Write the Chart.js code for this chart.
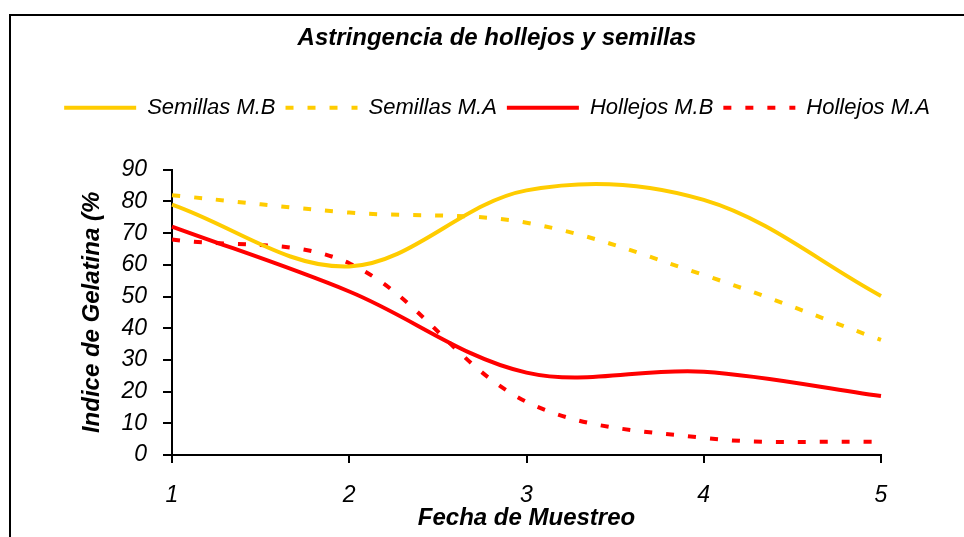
<!DOCTYPE html>
<html>
<head>
<meta charset="utf-8">
<script src="https://cdn.jsdelivr.net/npm/chart.js@4.4.1/dist/chart.umd.min.js"></script>
<style>
  html, body { margin: 0; padding: 0; background: #fff; }
  #wrap { width: 964px; height: 537px; }
</style>
</head>
<body>
<div id="wrap"><canvas id="chart" width="964" height="537"></canvas></div>
<script>
// Fecha de Muestreo (x)
const fechas = ["1", "2", "3", "4", "5"];

// Indice de Gelatina (%) por fecha
const semillasMB = [79, 59.5, 83.5, 80.5, 50.2];
const semillasMA = [82, 76.5, 73.3, 56.8, 36.3];
const hollejosMB = [72.1, 51.6, 26, 26.3, 18.6];
const hollejosMA = [68, 60.5, 16.8, 5.4, 4.1];

const yTicks = [0, 10, 20, 30, 40, 50, 60, 70, 80, 90];

const FONT = "'Liberation Sans', Arial, sans-serif";
const AMARILLO = "#FFCC00";
const ROJO = "#FF0000";
const punteado = [8, 14];

// marco negro del grafico (como en Excel)
const marco = {
    id: "marco",
    beforeDraw(chart) {
        const ctx = chart.ctx;
        ctx.save();
        ctx.fillStyle = "#fff";
        ctx.fillRect(0, 0, chart.width, chart.height);
        ctx.strokeStyle = "#000";
        ctx.lineWidth = 2;
        ctx.strokeRect(10, 15, 1000, 600);
        ctx.restore();
    }
};

function serie(label, data, color, dash) {
    return {
        label: label,
        data: data,
        borderColor: color,
        backgroundColor: color,
        borderWidth: 4,
        borderDash: dash,
        borderCapStyle: "butt",
        pointRadius: 0,
        pointHoverRadius: 0,
        fill: false,
        tension: 0.35
    };
}

// leyenda con el mismo trazo (y punteado) que cada serie
function etiquetas(chart) {
    const items = Chart.defaults.plugins.legend.labels.generateLabels(chart);
    items.forEach(item => {
        const ds = chart.data.datasets[item.datasetIndex];
        item.lineDash = ds.borderDash;
        item.lineWidth = ds.borderWidth;
        item.strokeStyle = ds.borderColor;
        item.lineCap = "butt";
    });
    return items;
}

new Chart(document.getElementById("chart"), {
    type: "line",
    data: {
        labels: fechas,
        datasets: [
            serie("Semillas M.B", semillasMB, AMARILLO, []),
            serie("Semillas M.A", semillasMA, AMARILLO, punteado),
            serie("Hollejos M.B", hollejosMB, ROJO, []),
            serie("Hollejos M.A", hollejosMA, ROJO, punteado)
        ]
    },
    options: {
        responsive: false,
        animation: false,
        layout: { padding: { top: 10, left: 40, right: 10, bottom: 0 } },
        plugins: {
            title: {
                display: true,
                text: "Astringencia de hollejos y semillas",
                color: "#000",
                font: { family: FONT, size: 24, weight: "bold", style: "italic" },
                padding: { top: 14, bottom: 34 }
            },
            legend: {
                position: "top",
                labels: {
                    color: "#000",
                    font: { family: FONT, size: 22, style: "italic" },
                    usePointStyle: true,
                    pointStyle: "line",
                    pointStyleWidth: 72,
                    padding: 10,
                    generateLabels: etiquetas
                }
            },
            tooltip: { enabled: false }
        },
        scales: {
            x: {
                type: "category",
                offset: false,
                grid: { display: true, drawOnChartArea: false, drawTicks: true, tickLength: 8, color: "#000", lineWidth: 2, offset: false },
                border: { display: true, color: "#000", width: 2 },
                ticks: { color: "#000", font: { family: FONT, size: 23, style: "italic" }, padding: 19, maxRotation: 0 },
                title: {
                    display: true,
                    text: "Fecha de Muestreo",
                    color: "#000",
                    font: { family: FONT, size: 24, weight: "bold", style: "italic" },
                    padding: { top: 0, bottom: 4 }
                },
                afterFit: s => { s.height = 82; }
            },
            y: {
                min: 0,
                max: 90,
                afterBuildTicks: s => { s.ticks = yTicks.map(v => ({ value: v })); },
                grid: { display: true, drawOnChartArea: false, drawTicks: true, tickLength: 9, color: "#000", lineWidth: 2 },
                border: { display: true, color: "#000", width: 2 },
                ticks: { color: "#000", font: { family: FONT, size: 23, style: "italic" }, padding: 16 },
                title: {
                    display: true,
                    text: "Indice de Gelatina (%",
                    color: "#000",
                    font: { family: FONT, size: 24, weight: "bold", style: "italic" },
                    padding: { top: 38, bottom: 0 }
                },
                afterFit: s => { s.width = 132; }
            },
            // espacios vacios para fijar el area del grafico
            arriba: {
                type: "linear",
                position: "top",
                ticks: { display: false },
                grid: { display: false },
                border: { display: false },
                afterFit: s => { s.height = 41; }
            },
            derecha: {
                type: "linear",
                position: "right",
                ticks: { display: false },
                grid: { display: false },
                border: { display: false },
                afterFit: s => { s.width = 73; }
            }
        }
    },
    plugins: [marco]
});
</script>
</body>
</html>
